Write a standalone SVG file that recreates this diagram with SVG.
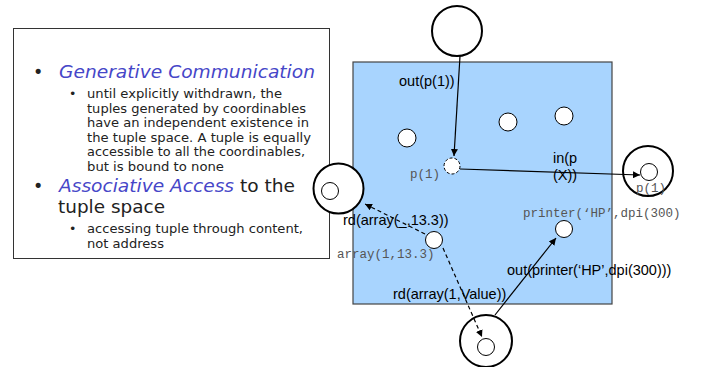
<svg xmlns="http://www.w3.org/2000/svg" width="701" height="367" viewBox="0 0 701 367">
<defs>
<marker id="ah" viewBox="0 0 10 10" refX="10" refY="5" markerWidth="7" markerHeight="7" orient="auto" markerUnits="userSpaceOnUse">
<path d="M0,0 L10,5 L0,10 z" fill="#000"/>
</marker>
<style>
.big{fill:#fff;stroke:#000;stroke-width:2}
.sm{fill:#fff;stroke:#000;stroke-width:1}
.lbl{font-family:"Liberation Sans",Arial,sans-serif;font-size:14.5px;fill:#000}
.mono{font-family:"Liberation Mono","Courier New",monospace;font-size:12.5px;fill:#555}
.conn{fill:none;stroke:#000;stroke-width:1.2;marker-end:url(#ah)}
.dash{stroke-dasharray:4,3}
.t{font-family:"DejaVu Sans",Verdana,sans-serif;fill:#222}
.h{font-size:17.5px}
.s{font-size:12.5px}
.em{font-style:italic;fill:#4646c8}
</style>
</defs>
<rect width="701" height="367" fill="#fff"/>
<g id="textbox">
<rect x="13.5" y="28.5" width="316" height="230" fill="#fff" stroke="#333" stroke-width="1"/>
<text class="t h" x="33" y="78" fill="#4646c8">•</text>
<text class="t h em" x="59" y="78" textLength="256" lengthAdjust="spacingAndGlyphs">Generative Communication</text>
<text class="t s" x="69" y="98">•</text>
<text class="t s" x="87" y="98" textLength="195" lengthAdjust="spacingAndGlyphs">until explicitly withdrawn, the</text>
<text class="t s" x="87" y="112.5" textLength="219" lengthAdjust="spacingAndGlyphs">tuples generated by coordinables</text>
<text class="t s" x="87" y="127" textLength="222" lengthAdjust="spacingAndGlyphs">have an independent existence in</text>
<text class="t s" x="87" y="141.5" textLength="224" lengthAdjust="spacingAndGlyphs">the tuple space. A tuple is equally</text>
<text class="t s" x="87" y="156" textLength="218" lengthAdjust="spacingAndGlyphs">accessible to all the coordinables,</text>
<text class="t s" x="87" y="170.5" textLength="137" lengthAdjust="spacingAndGlyphs">but is bound to none</text>
<text class="t h" x="33" y="192" fill="#4646c8">•</text>
<text class="t h" x="59" y="192" textLength="236" lengthAdjust="spacingAndGlyphs"><tspan class="em">Associative Access</tspan> to the</text>
<text class="t h" x="58" y="213" textLength="107" lengthAdjust="spacingAndGlyphs">tuple space</text>
<text class="t s" x="69" y="233">•</text>
<text class="t s" x="87" y="233" textLength="216" lengthAdjust="spacingAndGlyphs">accessing tuple through content,</text>
<text class="t s" x="87" y="248" textLength="77" lengthAdjust="spacingAndGlyphs">not address</text>
</g>
<g id="tuplespace">
<rect x="353" y="62" width="259" height="242" fill="#a8d4fe" stroke="#444" stroke-width="1.2"/>
</g>
<g id="tuples">
<circle class="sm" cx="407" cy="138" r="9"/>
<circle class="sm" cx="508" cy="122" r="9"/>
<circle class="sm" cx="564" cy="116" r="9"/>
<circle cx="452" cy="166" r="8" fill="#fff" stroke="#000" stroke-width="1" stroke-dasharray="3,2"/>
<circle class="sm" cx="564" cy="229" r="8.5"/>
<circle class="sm" cx="434" cy="240" r="8.5"/>
</g>
<g id="agent-top"><circle class="big" cx="457" cy="31" r="25"/></g>
<g id="agent-right"><circle class="big" cx="648" cy="171" r="25"/><circle class="sm" cx="649" cy="172" r="8.5"/></g>
<g id="agent-left"><circle class="big" cx="338.5" cy="188.5" r="25"/><circle class="sm" cx="330" cy="191" r="8.5"/></g>
<g id="agent-bottom"><circle class="big" cx="486" cy="341" r="26"/><circle class="sm" cx="486" cy="347" r="8.5"/></g>
<g id="connectors">
<line class="conn" x1="460" y1="56" x2="454" y2="156"/>
<line class="conn" x1="460" y1="169" x2="640" y2="175"/>
<line class="conn" x1="495" y1="315" x2="556" y2="238"/>
<line class="conn dash" x1="425" y1="234" x2="365" y2="204"/>
<line class="conn dash" x1="443" y1="248" x2="482" y2="337"/>
</g>
<g id="labels">
<text class="lbl" x="399" y="86">out(p(1))</text>
<text class="mono" x="410" y="178">p(1)</text>
<text class="lbl" x="553" y="163">in(p</text>
<text class="lbl" x="553" y="180">(X))</text>
<text class="mono" x="636" y="192">p(1)</text>
<text class="mono" x="523" y="217">printer(‘HP’,dpi(300)</text>
<text class="lbl" x="507" y="275">out(printer(‘HP’,dpi(300)))</text>
<text class="lbl" x="343" y="225">rd(array(_,13.3))</text>
<text class="mono" x="337" y="258">array(1,13.3)</text>
<text class="lbl" x="393" y="299">rd(array(1,Value))</text>
</g>
</svg>
